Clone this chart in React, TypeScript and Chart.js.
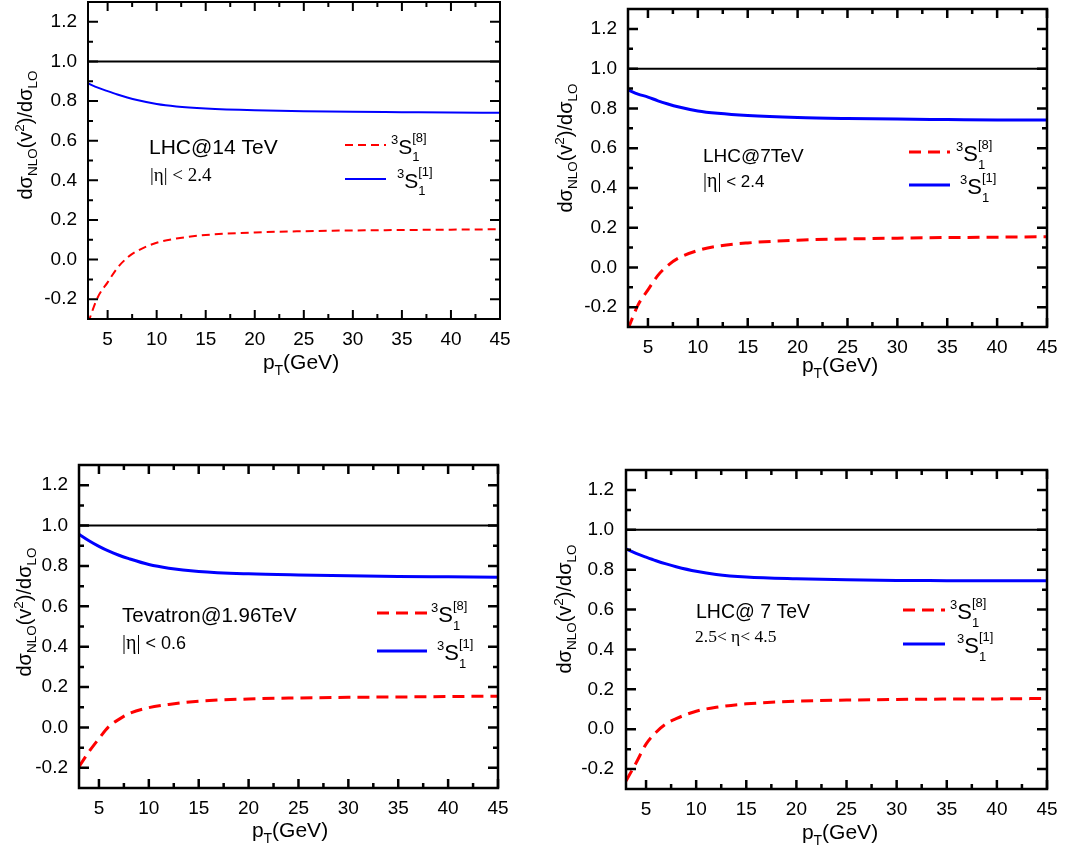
import React, { useEffect, useRef } from "react";
import { Chart, registerables } from "chart.js";

Chart.register(...registerables);

// ---------------- data ----------------
const ptGeV = [3, 4, 5, 6, 7, 8, 10, 12, 15, 20, 25, 30, 35, 40, 45];

const lhc14Singlet = [0.889, 0.868, 0.85, 0.833, 0.818, 0.805, 0.785, 0.773, 0.763, 0.754, 0.749, 0.746, 0.744, 0.742, 0.741];
const lhc14Octet = [-0.32, -0.19, -0.115, -0.042, 0.009, 0.043, 0.085, 0.106, 0.124, 0.137, 0.143, 0.147, 0.149, 0.151, 0.153];

const lhc7Singlet = [0.893, 0.872, 0.857, 0.838, 0.822, 0.808, 0.787, 0.775, 0.764, 0.754, 0.749, 0.746, 0.744, 0.742, 0.741];
const lhc7Octet = [-0.31, -0.19, -0.113, -0.04, 0.01, 0.045, 0.085, 0.107, 0.123, 0.137, 0.143, 0.147, 0.15, 0.152, 0.154];

const tevatronSinglet = [0.957, 0.925, 0.897, 0.873, 0.853, 0.836, 0.807, 0.789, 0.773, 0.761, 0.755, 0.751, 0.748, 0.746, 0.744];
const tevatronOctet = [-0.195, -0.12, -0.055, 0.005, 0.04, 0.068, 0.098, 0.114, 0.13, 0.141, 0.146, 0.149, 0.151, 0.153, 0.155];

const lhcbSinglet = [0.905, 0.882, 0.863, 0.845, 0.829, 0.815, 0.792, 0.776, 0.763, 0.754, 0.749, 0.746, 0.745, 0.744, 0.744];
const lhcbOctet = [-0.26, -0.17, -0.075, -0.015, 0.027, 0.053, 0.09, 0.11, 0.127, 0.14, 0.146, 0.149, 0.151, 0.152, 0.154];

const referenceX = [3, 45];
const referenceY = [1, 1];

const xTickValues = [5, 10, 15, 20, 25, 30, 35, 40, 45];
const xMinorValues = [7.5, 12.5, 17.5, 22.5, 27.5, 32.5, 37.5, 42.5];
const yTickValues = [-0.2, 0, 0.2, 0.4, 0.6, 0.8, 1.0, 1.2];
const yMinorValues = [-0.1, 0.1, 0.3, 0.5, 0.7, 0.9, 1.1];

const xRange = [3, 45];
const yRange = [-0.3, 1.3];

const octetColorIndex = "8";
const singletColorIndex = "1";

// ---------------- styles ----------------
const SANS = '"Liberation Sans", Arial, sans-serif';
const SERIF = '"Liberation Serif", "Times New Roman", serif';

type Seg = { t: string; s: number; dy?: number; f?: string; hold?: boolean };

type Panel = {
  cx: number; cy: number; cw: number; ch: number;
  L: number; R: number; T: number; B: number;
  singlet: number[]; octet: number[];
  lw: number; dash: number[]; frameW: number;
  tickFont: number; yPad: number; xPad: number;
  yTitle: [number, number]; xTitle: [number, number];
  notes: { segs: Seg[]; x: number; y: number }[];
  legX0: number; legX1: number; legRedY: number; legBlueY: number;
  legRedLabelX: number; legBlueLabelX: number; legS: number;
};

const panels: Panel[] = [
  {
    cx: 0, cy: 0, cw: 540, ch: 423,
    L: 88, R: 500, T: 2, B: 319,
    singlet: lhc14Singlet, octet: lhc14Octet,
    lw: 2, dash: [8, 5], frameW: 2,
    tickFont: 19, yPad: 11, xPad: 9,
    yTitle: [25, 135], xTitle: [301, 362],
    notes: [
      { segs: [{ t: "LHC@14 TeV", s: 21 }], x: 149, y: 147 },
      { segs: [{ t: "|\u03b7| < 2.4", s: 19, f: SERIF }], x: 150, y: 174 },
    ],
    legX0: 345, legX1: 386, legRedY: 145, legBlueY: 179,
    legRedLabelX: 391, legBlueLabelX: 397, legS: 21,
  },
  {
    cx: 540, cy: 0, cw: 529, ch: 423,
    L: 628, R: 1047, T: 9, B: 327,
    singlet: lhc7Singlet, octet: lhc7Octet,
    lw: 3, dash: [12, 7], frameW: 2.5,
    tickFont: 19, yPad: 11, xPad: 9,
    yTitle: [565, 148], xTitle: [840, 365],
    notes: [
      { segs: [{ t: "LHC@7TeV", s: 19 }], x: 703, y: 155 },
      { segs: [{ t: "|\u03b7|", s: 20, f: SERIF }, { t: " < 2.4", s: 17 }], x: 703, y: 180 },
    ],
    legX0: 909, legX1: 950, legRedY: 152, legBlueY: 185,
    legRedLabelX: 956, legBlueLabelX: 960, legS: 22,
  },
  {
    cx: 0, cy: 423, cw: 540, ch: 423,
    L: 79, R: 498, T: 465, B: 788,
    singlet: tevatronSinglet, octet: tevatronOctet,
    lw: 3, dash: [12, 7], frameW: 2.5,
    tickFont: 19, yPad: 11, xPad: 9,
    yTitle: [24, 612], xTitle: [290, 830],
    notes: [
      { segs: [{ t: "Tevatron@1.96TeV", s: 20.5 }], x: 122, y: 615 },
      { segs: [{ t: "|\u03b7|", s: 20, f: SERIF }, { t: " < 0.6", s: 18 }], x: 122, y: 642 },
    ],
    legX0: 377, legX1: 427, legRedY: 613, legBlueY: 651,
    legRedLabelX: 431, legBlueLabelX: 437, legS: 22,
  },
  {
    cx: 540, cy: 423, cw: 529, ch: 423,
    L: 626, R: 1047, T: 470, B: 789,
    singlet: lhcbSinglet, octet: lhcbOctet,
    lw: 3, dash: [12, 7], frameW: 2.5,
    tickFont: 19, yPad: 12, xPad: 9,
    yTitle: [564, 609], xTitle: [840, 832],
    notes: [
      { segs: [{ t: "LHC@ 7 TeV", s: 19.5 }], x: 696, y: 611 },
      { segs: [{ t: "2.5< \u03b7< 4.5", s: 17.5, f: SERIF }], x: 695, y: 636 },
    ],
    legX0: 903, legX1: 945, legRedY: 610, legBlueY: 644,
    legRedLabelX: 950, legBlueLabelX: 957, legS: 22,
  },
];

const RED = "#ff0000";
const BLUE = "#0000ff";

function segWidth(ctx: CanvasRenderingContext2D, segs: Seg[]) {
  let w = 0, held = 0;
  for (const g of segs) {
    ctx.font = `${g.s}px ${g.f ?? SANS}`;
    const m = ctx.measureText(g.t).width;
    if (g.hold) held = Math.max(held, m);
    else { w += Math.max(m, held); held = 0; }
  }
  return w + held;
}

function drawRich(ctx: CanvasRenderingContext2D, segs: Seg[], x: number, y: number) {
  let cx = x, held = 0;
  ctx.textBaseline = "alphabetic";
  ctx.textAlign = "left";
  for (const g of segs) {
    ctx.font = `${g.s}px ${g.f ?? SANS}`;
    ctx.fillText(g.t, cx, y + (g.dy ?? 0));
    const m = ctx.measureText(g.t).width;
    if (g.hold) held = Math.max(held, m);
    else { cx += Math.max(m, held); held = 0; }
  }
}

function makeDecorPlugin(p: Panel) {
  return {
    id: "decor",
    afterDraw(chart: any) {
      const ctx: CanvasRenderingContext2D = chart.ctx;
      const a = chart.chartArea;
      const xs = chart.scales.x, ys = chart.scales.y;
      ctx.save();
      ctx.strokeStyle = "#000";
      ctx.lineWidth = p.frameW;
      ctx.setLineDash([]);
      ctx.lineCap = "butt";
      const major = 10, minor = 5;
      ctx.beginPath();
      const xt = (vals: number[], len: number) => {
        for (const v of vals) {
          const px = xs.getPixelForValue(v);
          ctx.moveTo(px, a.bottom); ctx.lineTo(px, a.bottom - len);
          ctx.moveTo(px, a.top); ctx.lineTo(px, a.top + len);
        }
      };
      const yt = (vals: number[], len: number) => {
        for (const v of vals) {
          const py = ys.getPixelForValue(v);
          ctx.moveTo(a.left, py); ctx.lineTo(a.left + len, py);
          ctx.moveTo(a.right, py); ctx.lineTo(a.right - len, py);
        }
      };
      xt(xTickValues, major - 1); xt(xMinorValues, minor);
      yt(yTickValues, major); yt(yMinorValues, minor);
      ctx.stroke();
      ctx.strokeRect(a.left, a.top, a.right - a.left, a.bottom - a.top);

      ctx.fillStyle = "#000";
      // y title
      const ySegs: Seg[] = [
        { t: "d\u03c3", s: 20 }, { t: "NLO", s: 13.5, dy: 5 }, { t: "(v", s: 20 },
        { t: "2", s: 13.5, dy: -8.5 }, { t: ")/d\u03c3", s: 20 }, { t: "LO", s: 13.5, dy: 5 },
      ];
      const yw = segWidth(ctx, ySegs);
      ctx.save();
      ctx.translate(p.yTitle[0] - p.cx, p.yTitle[1] - p.cy);
      ctx.rotate(-Math.PI / 2);
      drawRich(ctx, ySegs, -yw / 2, 7);
      ctx.restore();
      // x title
      const xSegs: Seg[] = [{ t: "p", s: 21 }, { t: "T", s: 14, dy: 6 }, { t: "(GeV)", s: 21 }];
      const xw = segWidth(ctx, xSegs);
      drawRich(ctx, xSegs, p.xTitle[0] - p.cx - xw / 2, p.xTitle[1] - p.cy + 7);
      // notes
      for (const n of p.notes) {
        const s0 = n.segs[0].s;
        drawRich(ctx, n.segs, n.x - p.cx, n.y - p.cy + s0 * 0.35);
      }
      // legend
      const ds = chart.data.datasets;
      const legItems = [
        { d: ds[2], y: p.legRedY, lx: p.legRedLabelX, idx: octetColorIndex },
        { d: ds[1], y: p.legBlueY, lx: p.legBlueLabelX, idx: singletColorIndex },
      ];
      for (const it of legItems) {
        ctx.save();
        ctx.strokeStyle = it.d.borderColor;
        ctx.lineWidth = it.d.borderWidth;
        ctx.setLineDash(it.d.borderDash || []);
        ctx.beginPath();
        ctx.moveTo(p.legX0 - p.cx, it.y - p.cy);
        ctx.lineTo(p.legX1 - p.cx, it.y - p.cy);
        ctx.stroke();
        ctx.restore();
        const S = p.legS;
        const small = Math.round(S * 0.6);
        const segs: Seg[] = [
          { t: "3", s: small, dy: -S * 0.45 },
          { t: "S", s: S },
          { t: "1", s: small, dy: S * 0.35, hold: true },
          { t: `[${it.idx}]`, s: small, dy: -S * 0.55 },
        ];
        drawRich(ctx, segs, it.lx - p.cx, it.y - p.cy + 1 + S * 0.36);
      }
      ctx.restore();
    },
  };
}

function PanelChart({ p }: { p: Panel }) {
  const ref = useRef<HTMLCanvasElement | null>(null);
  useEffect(() => {
    if (!ref.current) return;
    const W = p.L - p.cx;
    const H = p.cy + p.ch - p.B;
    const chart = new Chart(ref.current, {
      type: "line",
      data: {
        datasets: [
          {
            data: referenceX.map((x, i) => ({ x, y: referenceY[i] })),
            borderColor: "#000", borderWidth: 2, pointRadius: 0,
          },
          {
            data: ptGeV.map((x, i) => ({ x, y: p.singlet[i] })),
            borderColor: BLUE, borderWidth: p.lw, pointRadius: 0,
            cubicInterpolationMode: "monotone",
          },
          {
            data: ptGeV.map((x, i) => ({ x, y: p.octet[i] })),
            borderColor: RED, borderWidth: p.lw, pointRadius: 0,
            borderDash: p.dash, cubicInterpolationMode: "monotone",
          },
        ],
      } as any,
      options: {
        animation: false,
        responsive: false,
        events: [],
        layout: { padding: { left: 0, top: p.T - p.cy, right: p.cx + p.cw - p.R, bottom: 0 } },
        plugins: { legend: { display: false }, tooltip: { enabled: false } },
        scales: {
          x: {
            type: "linear", min: xRange[0], max: xRange[1],
            grid: { display: false, drawTicks: false }, border: { display: false },
            ticks: {
              color: "#000", font: { family: SANS, size: p.tickFont }, padding: p.xPad,
              maxRotation: 0, autoSkip: false, callback: (v: any) => String(Math.round(Number(v))),
            },
            afterBuildTicks: (s: any) => { s.ticks = xTickValues.map((v) => ({ value: v })); },
            afterFit: (s: any) => { s.height = H; s.paddingLeft = 0; s.paddingRight = 0; },
          },
          y: {
            type: "linear", min: yRange[0], max: yRange[1],
            grid: { display: false, drawTicks: false }, border: { display: false },
            ticks: {
              color: "#000", font: { family: SANS, size: p.tickFont }, padding: p.yPad,
              autoSkip: false, callback: (v: any) => Number(v).toFixed(1),
            },
            afterBuildTicks: (s: any) => { s.ticks = yTickValues.map((v) => ({ value: v })); },
            afterFit: (s: any) => { s.width = W; s.paddingTop = 0; s.paddingBottom = 0; },
          },
        },
      } as any,
      plugins: [makeDecorPlugin(p)],
    });
    return () => chart.destroy();
  }, [p]);
  return (
    <canvas
      ref={ref}
      width={p.cw}
      height={p.ch}
      style={{ position: "absolute", left: p.cx, top: p.cy, width: p.cw, height: p.ch }}
    />
  );
}

export default function App() {
  return (
    <div style={{ position: "absolute", left: 0, top: 0, width: 1069, height: 846, background: "#fff" }}>
      {panels.map((p, i) => (
        <PanelChart key={i} p={p} />
      ))}
    </div>
  );
}
